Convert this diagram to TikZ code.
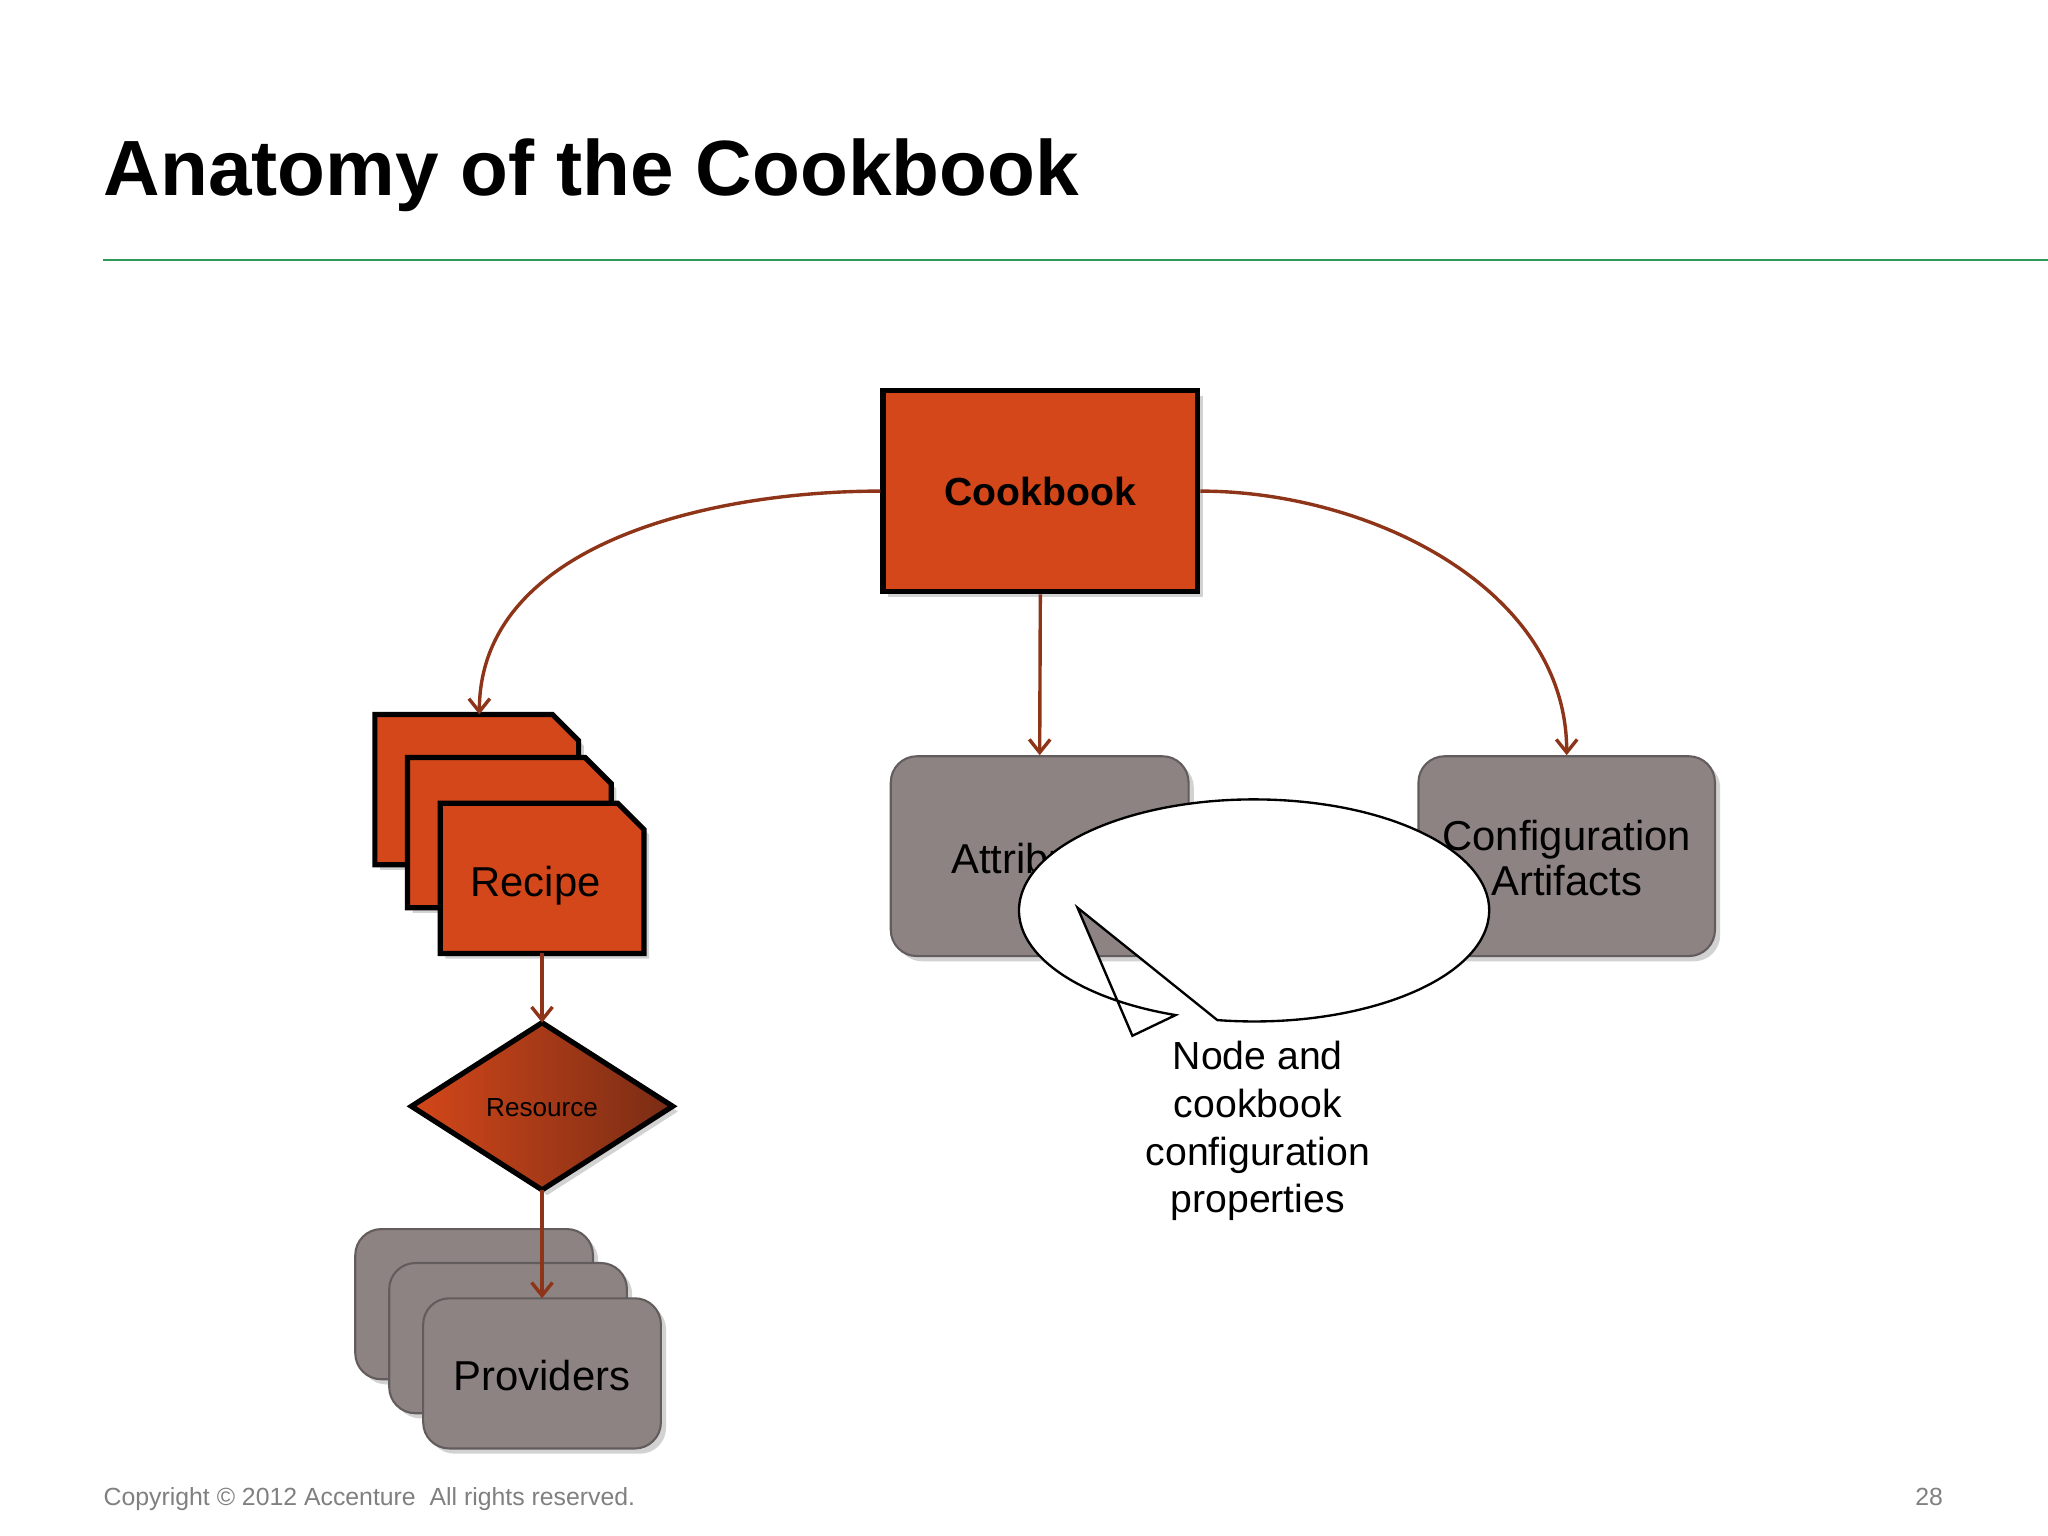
\documentclass[tikz,border=0pt]{standalone}
\usepackage{fontspec}
\setmainfont{Liberation Sans}
\usetikzlibrary{shapes.geometric,shapes.callouts,arrows.meta,shadows}
\definecolor{org}{HTML}{D4471A}
\definecolor{brn}{HTML}{8E3418}
\definecolor{gry}{HTML}{8E8383}
\definecolor{grn}{HTML}{2E9A57}
\begin{document}
\begin{tikzpicture}[x=0.5pt,y=-0.5pt,
  arr/.style={draw=brn,line width=1.3pt,-{Straight Barb[length=5pt,width=8pt]}},
  ob/.style={fill=org,draw=black,line width=2pt,drop shadow={opacity=0.35,shadow xshift=2pt,shadow yshift=-2pt}},
  gb/.style={fill=gry,draw=gry!70!black,line width=0.8pt,rounded corners=10pt,drop shadow={opacity=0.35,shadow xshift=2pt,shadow yshift=-2pt}},
  lbl/.style={font=\fontsize{16}{19}\selectfont,align=center}]
\useasboundingbox (0,0) rectangle (1568,1176);
\fill[white] (0,0) rectangle (1568,1176);
\node[anchor=base west,font=\fontsize{30}{36}\selectfont\bfseries,inner sep=0] (title) at (79,150) {Anatomy of the Cookbook};
\draw[grn,line width=1pt] (79,199) -- (1568,199);
% cookbook
\node[ob,minimum width=120.5pt,minimum height=77pt,inner sep=0,font=\fontsize{15}{18}\selectfont\bfseries] (cb) at (796.5,376) {Cookbook};
% recipe stack
\foreach \dx/\dy/\n in {0/0/r1,25/33/r2,50/68/r3}{
 \draw[ob] (287+\dx,547+\dy) -- (423+\dx,547+\dy) -- (443+\dx,567+\dy) -- (443+\dx,662+\dy) -- (287+\dx,662+\dy) -- cycle;}
\node[lbl] (recipe) at (410,678) {Recipe};
\coordinate (rtop) at (367,547);
\coordinate (rbot) at (415,730);
% attributes / config
\node[gb,minimum width=114pt,minimum height=76.5pt,lbl] (att) at (796,655.5) {};
\node[lbl] (attt) at (796,657) {Attributes};
\node[gb,minimum width=113.5pt,minimum height=76.5pt] (cfg) at (1199.5,655.5) {};
\node[lbl] (cfgt) at (1199.5,657) {Configuration\\[-2pt]Artifacts};
% diamond
\shade[left color=org,right color=brn!85!black,draw=black,line width=2pt,drop shadow={opacity=0.35,shadow xshift=2pt,shadow yshift=-2pt}] (315,847) -- (415,783) -- (515,847) -- (415,911) -- cycle;
\node[font=\fontsize{10}{12}\selectfont] (res) at (415,848) {Resource};
\coordinate (dtop) at (415,783);
\coordinate (dbot) at (415,911);
% providers
\foreach \dx/\dy in {0/0,26/26,52/53}{
 \draw[gb] (272+\dx,941+\dy) rectangle (454+\dx,1056+\dy);}
\node[lbl] (prov) at (415,1053) {Providers};
\coordinate (ptop) at (415,994);
% callout
\draw[fill=white,line width=0.9pt] (867,793) -- (825,695) -- (932,781) arc[start angle=99,end angle=-250.5,x radius=180,y radius=85] -- cycle;
\node[lbl,font=\fontsize{15}{18.3}\selectfont] (note) at (963,866) {Node and\\cookbook\\configuration\\properties};
% connectors
\draw[arr] (cb.west) to[out=180,in=90,looseness=0.95] (rtop);
\draw[arr] (cb.south) -- (att.north);
\draw[arr] (cb.east) to[out=0,in=90,looseness=0.95] (cfg.north);
\draw[arr] (rbot) -- (dtop);
\draw[arr] (dbot) -- (ptop);
% footer
\node[anchor=base west,text=gray,font=\fontsize{9.5}{11}\selectfont,inner sep=0] (copy) at (79,1153) {Copyright © 2012 Accenture\ \ All rights reserved.};
\node[anchor=base east,text=gray,font=\fontsize{9.5}{11}\selectfont,inner sep=0] (pg) at (1488,1153) {28};
\end{tikzpicture}
\end{document}
